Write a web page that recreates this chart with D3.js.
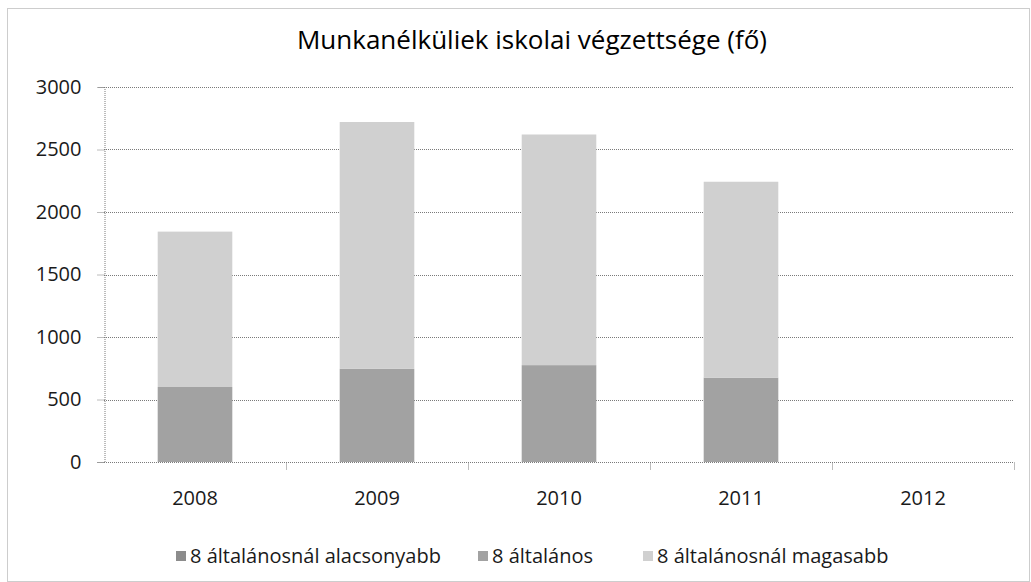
<!DOCTYPE html>
<html>
<head>
<meta charset="utf-8">
<script src="https://cdn.jsdelivr.net/npm/d3@7"></script>
<style>
  body { margin: 0; background: #fff; }
  svg text { font-family: "Open Sans", "Noto Sans", sans-serif; fill: #1a1a1a; }
</style>
</head>
<body>
<div id="chart"></div>
<script>
var years = ["2008", "2009", "2010", "2011", "2012"];
var seriesNames = ["8 általánosnál alacsonyabb", "8 általános", "8 általánosnál magasabb"];
var lowerThan8 = [0, 0, 0, 0, 0];
var general8 = [600, 745, 775, 675, 0];
var higherThan8 = [1243, 1975, 1845, 1567, 0];
var yTicks = [0, 500, 1000, 1500, 2000, 2500, 3000];
var colors = ["#8c8c8c", "#a2a2a2", "#d0d0d0"];

var width = 1031, height = 582;
var margin = {top: 87, right: 17, bottom: 120, left: 104};
var chartW = width - margin.left - margin.right,
  chartH = height - margin.top - margin.bottom;

var rows = years.map(function(y, i) {
  return {year: y, s0: lowerThan8[i], s1: general8[i], s2: higherThan8[i]};
});

var svg = d3.select("#chart").append("svg")
  .attr("width", width)
  .attr("height", height);

// outer frame
svg.append("rect")
  .attr("x", 7.5).attr("y", 8.5)
  .attr("width", width - 9).attr("height", height - 9)
  .attr("fill", "none")
  .attr("stroke", "#9a9a9a")
  .attr("stroke-dasharray", "1,1");

svg.append("text")
  .attr("x", 532).attr("y", 49)
  .attr("text-anchor", "middle")
  .style("font-size", "26px")
  .style("font-weight", "500")
  .style("fill", "#000")
  .text("Munkanélküliek iskolai végzettsége (fő)");

var g = svg.append("g")
  .attr("transform", "translate(" + margin.left + "," + margin.top + ")");

var x = d3.scaleBand().domain(years).range([0, chartW]).paddingInner(0.59).paddingOuter(0.295);
var xCat = d3.scaleBand().domain(years).range([0, chartW]);
var y = d3.scaleLinear().domain([0, 3000]).range([chartH, 0]);

// gridlines
g.append("g").selectAll("line")
  .data(yTicks.filter(function(d) { return d > 0; }))
  .enter().append("line")
  .attr("x1", 0).attr("x2", chartW)
  .attr("y1", function(d) { return Math.round(y(d)) + 0.5; })
  .attr("y2", function(d) { return Math.round(y(d)) + 0.5; })
  .attr("stroke", "#7a7a7a")
  .attr("stroke-dasharray", "1,1");

var stack = d3.stack().keys(["s0", "s1", "s2"]);
var layers = stack(rows);

g.append("g").selectAll("g")
  .data(layers)
  .enter().append("g")
  .attr("fill", function(d, i) { return colors[i]; })
  .selectAll("rect")
  .data(function(d) { return d; })
  .enter().append("rect")
  .attr("x", function(d) { return x(d.data.year); })
  .attr("y", function(d) { return y(d[1]); })
  .attr("width", x.bandwidth())
  .attr("height", function(d) { return y(d[0]) - y(d[1]); });

// y axis
var yAxis = d3.axisLeft(y).tickValues(yTicks).tickFormat(d3.format("d")).tickSize(7).tickPadding(16);
var yg = g.append("g").attr("transform", "translate(0.5,0)").call(yAxis);
yg.select(".domain").attr("stroke", "#7a7a7a").attr("stroke-dasharray", "1,1");
yg.selectAll(".tick line").attr("stroke", "#7a7a7a").attr("stroke-dasharray", "1,1");
yg.selectAll(".tick text").style("font-size", "20px").style("font-family", "'Open Sans', sans-serif").attr("fill", "#1a1a1a");

// x axis
var xg = g.append("g").attr("transform", "translate(0," + (chartH + 0.5) + ")");
xg.append("line").attr("x1", 0).attr("x2", chartW)
  .attr("stroke", "#7a7a7a").attr("stroke-dasharray", "1,1");
xg.selectAll(".sep")
  .data(years.slice(1).concat(["end"]))
  .enter().append("line")
  .attr("x1", function(d, i) { return Math.round(xCat.step() * (i + 1)) + 0.5; })
  .attr("x2", function(d, i) { return Math.round(xCat.step() * (i + 1)) + 0.5; })
  .attr("y1", 0).attr("y2", 8)
  .attr("stroke", "#7a7a7a").attr("stroke-dasharray", "1,1");
xg.selectAll(".lbl")
  .data(years)
  .enter().append("text")
  .attr("x", function(d) { return xCat(d) + xCat.bandwidth() / 2; })
  .attr("y", 42)
  .attr("text-anchor", "middle")
  .style("font-size", "20px")
  .text(function(d) { return d; });

// legend
var legendX = [176, 478, 643];
var legend = svg.append("g").attr("transform", "translate(0,556)");
var items = legend.selectAll("g")
  .data(seriesNames)
  .enter().append("g")
  .attr("transform", function(d, i) { return "translate(" + legendX[i] + ",0)"; });
items.append("rect")
  .attr("x", 0).attr("y", -5)
  .attr("width", 10).attr("height", 10)
  .attr("fill", function(d, i) { return colors[i]; });
items.append("text")
  .attr("x", 14).attr("y", 7)
  .style("font-size", "20px")
  .text(function(d) { return d; });
</script>
</body>
</html>
